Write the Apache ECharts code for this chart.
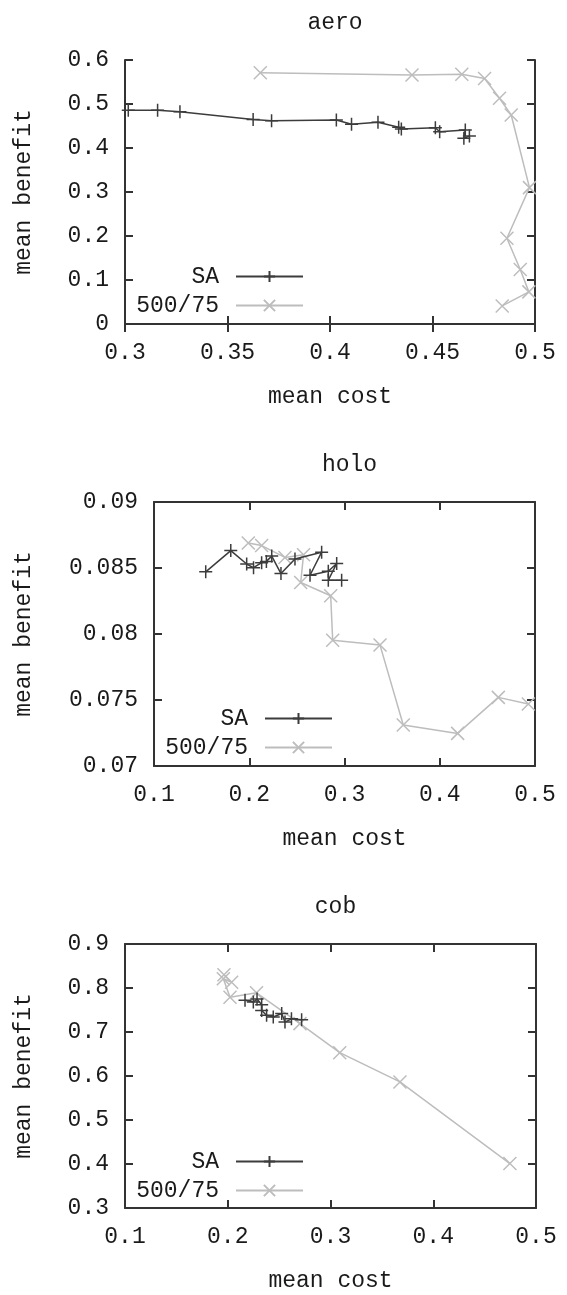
<!DOCTYPE html>
<html><head><meta charset="utf-8">
<script src="https://cdn.jsdelivr.net/npm/echarts@6/dist/echarts.min.js"></script>
<style>html,body{margin:0;padding:0;background:#fff}#c{width:567px;height:1295px}</style>
</head><body><div id="c"></div>
<script>
// ---------- data ----------
const panelTitles = ['aero', 'holo', 'cob'];
const seriesNames = ['SA', '500/75'];
const xAxisName = 'mean cost';
const yAxisName = 'mean benefit';

const aeroSA = [[0.3016,0.486],[0.3159,0.486],[0.3268,0.4825],[0.3625,0.465],[0.3715,0.462],[0.4031,0.4636],[0.4105,0.4538],[0.4234,0.4584],[0.4335,0.447],[0.4348,0.443],[0.4514,0.446],[0.4535,0.437],[0.466,0.441],[0.4653,0.422],[0.468,0.427]];
const aeroGA = [[0.366,0.571],[0.440,0.566],[0.4643,0.5675],[0.4754,0.558],[0.4827,0.513],[0.4884,0.475],[0.4973,0.31],[0.4863,0.195],[0.4928,0.124],[0.497,0.073],[0.484,0.041]];

const holoSA = [[0.1543,0.08471],[0.1806,0.08632],[0.1973,0.0853],[0.2045,0.08502],[0.213,0.0854],[0.218,0.0855],[0.2236,0.0859],[0.2333,0.08458],[0.248,0.08568],[0.276,0.0862],[0.2638,0.08445],[0.283,0.08475],[0.2918,0.08534],[0.283,0.08408],[0.297,0.08408]];
const holoGA = [[0.199,0.0869],[0.213,0.0867],[0.2375,0.0858],[0.257,0.0860],[0.254,0.0839],[0.2855,0.0829],[0.2876,0.07953],[0.3373,0.07916],[0.3617,0.0731],[0.4188,0.07247],[0.4615,0.0752],[0.493,0.0747]];

const cobSA = [[0.2168,0.772],[0.2249,0.768],[0.2285,0.775],[0.233,0.762],[0.233,0.749],[0.2378,0.738],[0.2443,0.734],[0.2525,0.742],[0.2557,0.7225],[0.262,0.73],[0.2719,0.728]];
const cobGA = [[0.1963,0.830],[0.2038,0.813],[0.1957,0.821],[0.2022,0.779],[0.228,0.789],[0.2703,0.719],[0.309,0.653],[0.3676,0.5865],[0.4746,0.401]];

const xRanges = [[0.3,0.5,0.05],[0.1,0.5,0.1],[0.1,0.5,0.1]];
const yRanges = [[0,0.6,0.1],[0.07,0.09,0.005],[0.3,0.9,0.1]];

// ---------- styling / layout ----------
const FONT = 'Liberation Mono';
const FS = 23;
const TXT = '#1a1a1a';
const AX = '#333';
const grids = [
  {left:125, top:60, width:410, height:264},
  {left:154, top:502, width:381, height:264},
  {left:125, top:944, width:411, height:264}
];
const yNameGap = [90, 119, 90];
const legendRight = [258, 229, 258];
const legendTop = [257, 699, 1142];
const PLUS = 'path://M5,0L5,10M0,5L10,5';
const CROSS = 'path://M0,0L10,10M0,10L10,0';
const seriesStyle = [
  {color:'#3c3c3c', symbol: PLUS},
  {color:'#bdbdbd', symbol: CROSS}
];
const panelData = [[aeroSA, aeroGA],[holoSA, holoGA],[cobSA, cobGA]];

const xAxes = [], yAxes = [], series = [], titles = [], legends = [];
grids.forEach((g, i) => {
  const [xmin,xmax,xint] = xRanges[i];
  const [ymin,ymax,yint] = yRanges[i];
  const line = {show:true, lineStyle:{color:AX, width:2}};
  const tick = {show:true, inside:true, length:8, lineStyle:{color:AX, width:2}};
  xAxes.push({type:'value', gridIndex:i, min:xmin, max:xmax, interval:xint, position:'bottom',
    axisLine:line, axisTick:tick, splitLine:{show:false},
    axisLabel:{color:TXT, fontFamily:FONT, fontSize:FS, margin:17},
    name:xAxisName, nameLocation:'middle', nameGap:61,
    nameTextStyle:{color:TXT, fontFamily:FONT, fontSize:FS}});
  xAxes.push({type:'value', gridIndex:i, min:xmin, max:xmax, interval:xint, position:'top',
    axisLine:line, axisTick:tick, splitLine:{show:false}, axisLabel:{show:false}});
  yAxes.push({type:'value', gridIndex:i, min:ymin, max:ymax, interval:yint, position:'left',
    axisLine:line, axisTick:tick, splitLine:{show:false},
    axisLabel:{color:TXT, fontFamily:FONT, fontSize:FS, margin:16},
    name:yAxisName, nameLocation:'middle', nameGap:yNameGap[i], nameRotate:90,
    nameTextStyle:{color:TXT, fontFamily:FONT, fontSize:FS}});
  yAxes.push({type:'value', gridIndex:i, min:ymin, max:ymax, interval:yint, position:'right',
    axisLine:line, axisTick:tick, splitLine:{show:false}, axisLabel:{show:false}});
  panelData[i].forEach((d, k) => {
    const st = seriesStyle[k];
    series.push({type:'line', name:seriesNames[k], xAxisIndex:2*i, yAxisIndex:2*i, data:d,
      symbol:st.symbol, symbolSize:13, showAllSymbol:true, clip:true,
      lineStyle:{color:st.color, width:1.5},
      itemStyle:{color:st.color, borderColor:st.color, borderWidth:1.5},
      emphasis:{disabled:true}, z: k===0 ? 3 : 2});
  });
  titles.push({text:panelTitles[i], left:g.left + g.width/2, top:g.top - 54, textAlign:'center',
    textStyle:{color:TXT, fontFamily:FONT, fontSize:FS, fontWeight:'normal'}});
  legends.push({data:seriesNames, orient:'vertical', align:'right', right:legendRight[i], top:legendTop[i],
    itemWidth:67, itemHeight:14, itemGap:0, selectedMode:false,
    textStyle:{color:TXT, fontFamily:FONT, fontSize:FS, lineHeight:29, padding:[0,12,0,0]}});
});

const chart = echarts.init(document.getElementById('c'), null, {renderer:'canvas'});
chart.setOption({
  backgroundColor:'#fff', animation:false,
  title:titles, legend:legends, grid:grids,
  xAxis:xAxes, yAxis:yAxes, series:series
});
</script></body></html>
